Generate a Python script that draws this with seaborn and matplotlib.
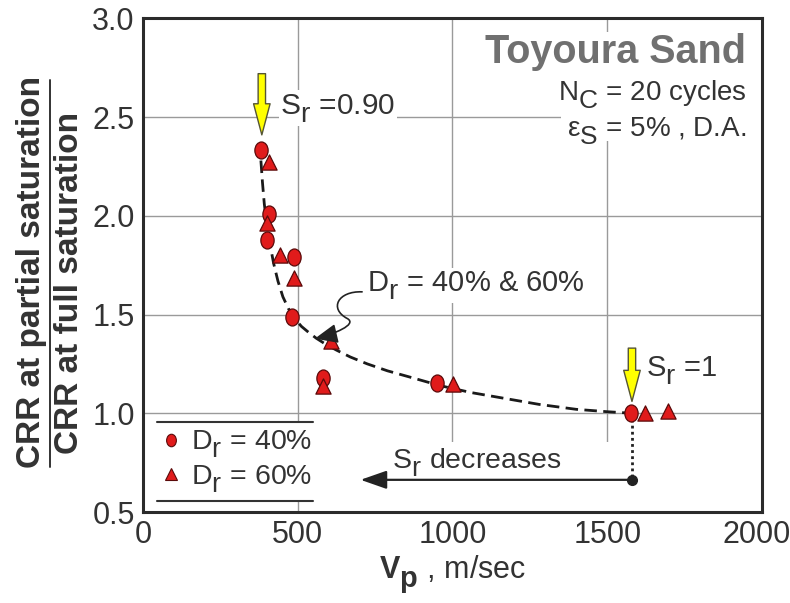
import numpy as np
import pandas as pd
import matplotlib
matplotlib.use("Agg")
import matplotlib.pyplot as plt
import seaborn as sns
from matplotlib.patches import FancyArrowPatch, Rectangle
from matplotlib.path import Path
from matplotlib.lines import Line2D
from matplotlib.transforms import Affine2D, ScaledTranslation

# ---------------- data ----------------
vp_dr40 = [381, 406, 401, 487, 482, 582, 949, 1578]
crr_dr40 = [2.334, 2.009, 1.876, 1.792, 1.488, 1.181, 1.153, 1.0]
vp_dr60 = [406, 402, 444, 487, 606, 582, 1002, 1621, 1697]
crr_dr60 = [2.271, 1.963, 1.80, 1.686, 1.365, 1.136, 1.147, 1.0, 1.01]
trend_vp = [381, 386, 392, 400, 410, 422, 436, 452, 470, 490, 512, 535, 560,
            590, 625, 670, 725, 790, 870, 960, 1060, 1170, 1280, 1400, 1500, 1580]
trend_crr = [2.28, 2.17, 2.06, 1.96, 1.86, 1.76, 1.67, 1.59, 1.53, 1.48, 1.44,
             1.41, 1.38, 1.35, 1.32, 1.285, 1.25, 1.215, 1.18, 1.14, 1.105,
             1.075, 1.045, 1.02, 1.008, 1.0]
x_ticks = [0, 500, 1000, 1500, 2000]
y_ticks = [0.5, 1.0, 1.5, 2.0, 2.5, 3.0]
legend_labels = ["$\\mathrm{D_r}$ = 40%", "$\\mathrm{D_r}$ = 60%"]

# ---------------- style ----------------
sns.set_style("white")
plt.rcParams["font.family"] = ["Liberation Sans", "DejaVu Sans"]
plt.rcParams["mathtext.fontset"] = "custom"
plt.rcParams["mathtext.rm"] = "Liberation Sans"
plt.rcParams["mathtext.it"] = "Liberation Sans:italic"
plt.rcParams["mathtext.bf"] = "Liberation Sans:bold"
# full-size, lowered subscripts as in the reference
try:
    import matplotlib._mathtext as _mt
    _mt.SHRINK_FACTOR = 0.95
    _mt.FontConstantsBase.sub1 = 0.55
except Exception:
    pass

TXT = "#333333"
RED = "#e01b1b"
EDGE = "#5a0a0a"

fig = plt.figure(figsize=(7.9, 6.03), dpi=100)
ax = fig.add_axes([0.1810, 0.1509, 0.7835, 0.8186])

df40 = pd.DataFrame({"Vp": vp_dr40, "CRR": crr_dr40})
df60 = pd.DataFrame({"Vp": vp_dr60, "CRR": crr_dr60})
dftr = pd.DataFrame({"Vp": trend_vp, "CRR": trend_crr})

ell = Affine2D().scale(0.78, 1.0).transform_path(Path.unit_circle())

sns.lineplot(data=dftr, x="Vp", y="CRR", ax=ax, color="#1a1a1a", lw=2.0,
             dashes=(4.5, 2.3), sort=False, zorder=3)
sns.scatterplot(data=df40, x="Vp", y="CRR", ax=ax, marker=ell, s=150,
                color=RED, edgecolor=EDGE, linewidth=0.9, zorder=5, legend=False)
sns.scatterplot(data=df60, x="Vp", y="CRR", ax=ax, marker="^", s=120,
                color=RED, edgecolor=EDGE, linewidth=0.9, zorder=5, legend=False)

ax.set_xlim(0, 2000)
ax.set_ylim(0.5, 3.0)
ax.set_xticks(x_ticks)
ax.set_xticklabels([str(v) for v in x_ticks])
ax.set_yticks(y_ticks)
ax.set_yticklabels([f"{v:.1f}" for v in y_ticks])
ax.tick_params(length=0, labelsize=22, labelcolor=TXT, pad=6)
last = ax.get_xticklabels()[-1]
last.set_transform(last.get_transform() + ScaledTranslation(-4 / 72, 0, fig.dpi_scale_trans))
ax.grid(True, color="#9a9a9a", lw=1.0)
ax.set_axisbelow(True)
for sp in ax.spines.values():
    sp.set_color("#2b2b2b")
    sp.set_linewidth(2.2)
ax.set_xlabel("$\\mathbf{V_p}$ , m/sec", fontsize=22, color=TXT, labelpad=2)
ax.set_ylabel("")

# white background boxes hiding grid
ax.add_patch(Rectangle((1351, 2.38), 649, 0.55, fc="white", ec="none", zorder=1))
ax.add_patch(Rectangle((600, 0.5), 960, 0.355, fc="white", ec="none", zorder=1))
ax.add_patch(Rectangle((0.022, 0.0216), 0.2525, 0.16, transform=ax.transAxes,
                       fc="white", ec="none", zorder=1))

# legend
h40 = Line2D([], [], marker=ell, markersize=9, color=RED, mec=EDGE, mew=0.8, ls="none")
h60 = Line2D([], [], marker="^", markersize=9, color=RED, mec=EDGE, mew=0.8, ls="none")
leg = ax.legend([h40, h60], legend_labels, loc="center",
                bbox_to_anchor=(0.148, 0.1016), frameon=False, fontsize=20.5,
                handletextpad=0.2, handlelength=1.0, labelspacing=0.1,
                borderaxespad=0)
for t in leg.get_texts():
    t.set_color(TXT)
for yy in (0.0216, 0.1816):
    ax.add_line(Line2D([0.022, 0.2745], [yy, yy], transform=ax.transAxes,
                       color="#333333", lw=1.5, zorder=6))

# top-right text block
ax.text(1950, 2.773, "Toyoura Sand", fontsize=28.5, weight="bold", color="#707070",
        ha="right", va="baseline", zorder=6)
ax.text(1950, 2.584, "$\\mathrm{N_C}$ = 20 cycles", fontsize=20, color=TXT,
        ha="right", va="baseline", zorder=6)
ax.text(1950, 2.40, "ε$\\mathrm{_S}$ = 5% , D.A.", fontsize=20, color=TXT,
        ha="right", va="baseline", zorder=6)

# yellow arrows
for (x0, y0, y1) in [(384, 2.72, 2.41), (1580, 1.33, 1.06)]:
    ax.add_patch(FancyArrowPatch((x0, y0), (x0, y1),
                 arrowstyle="simple,head_length=1.6,head_width=0.85,tail_width=0.38",
                 mutation_scale=14, fc="#ffff00", ec="#555533", lw=1.0,
                 shrinkA=0, shrinkB=0, zorder=7))

bb = dict(fc="white", ec="none", pad=1)
ax.text(444, 2.517, "$\\mathrm{S_r}$ =0.90", fontsize=21.5, color=TXT,
        ha="left", va="baseline", bbox=bb, zorder=6)
ax.text(1626, 1.187, "$\\mathrm{S_r}$ =1", fontsize=21, color=TXT,
        ha="left", va="baseline", zorder=6)
ax.text(725, 1.619, "$\\mathrm{D_r}$ = 40% & 60%", fontsize=21, color=TXT,
        ha="left", va="baseline", bbox=bb, zorder=6)

# wavy annotation arrow
verts = [(708, 1.615), (630, 1.62), (600, 1.53), (660, 1.48),
         (695, 1.45), (615, 1.40), (555, 1.378)]
codes = [Path.MOVETO, Path.CURVE4, Path.CURVE4, Path.CURVE4,
         Path.CURVE4, Path.CURVE4, Path.CURVE4]
ax.add_patch(FancyArrowPatch(path=Path(verts, codes),
             arrowstyle="-|>,head_length=0.7,head_width=0.3", mutation_scale=20,
             color="#222222", lw=1.2, zorder=7))

# Sr decreases
ax.plot([1580, 1580], [1.0, 0.663], color="#222222", lw=2.0, ls=(0, (1, 1.2)), zorder=4)
ax.annotate("", xy=(703, 0.663), xytext=(1580, 0.663),
            arrowprops=dict(arrowstyle="-|>,head_length=0.8,head_width=0.28",
                            mutation_scale=20, color="#222222", lw=1.6,
                            shrinkA=0, shrinkB=0), zorder=6)
ax.plot([1580], [0.663], marker="o", color="#222222", markersize=7, zorder=7)
ax.text(1078, 0.72, "$\\mathrm{S_r}$ decreases", fontsize=20.5, color=TXT,
        ha="center", va="baseline", zorder=6)

# y label as a fraction
fig.text(0.0405, 0.549, "CRR at partial saturation", rotation=90, ha="center",
         va="center", fontsize=24, weight="bold", color=TXT)
fig.text(0.0886, 0.531, "CRR at full saturation", rotation=90, ha="center",
         va="center", fontsize=24, weight="bold", color=TXT)
fig.add_artist(Line2D([0.0633, 0.0633], [1 - 80 / 603, 1 - 467 / 603],
                      transform=fig.transFigure, color=TXT, lw=1.4))

fig.savefig("out.png", dpi=100)
